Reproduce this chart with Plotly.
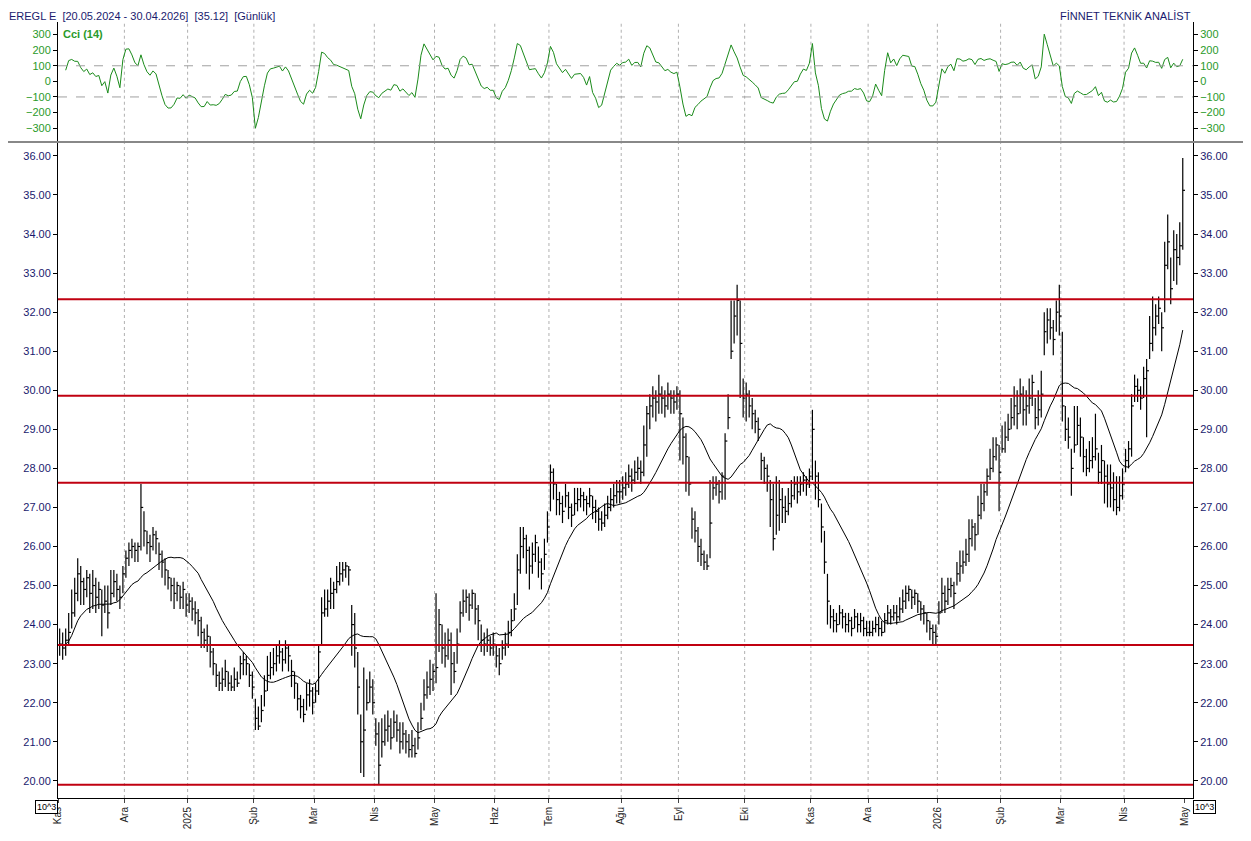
import plotly.graph_objects as go
import pandas as pd

# daily bars, Nov 2024 .. Apr 2026 (trading-day index)
closes = [
    23.5, 23.4, 23.6, 23.8, 24.3, 24.8, 25.3, 25.1, 24.9, 25.2, 24.8, 25.0, 24.7, 24.9, 24.5, 24.6, 24.3, 24.8, 25.1, 24.9, 24.7, 25.3,
    25.7, 25.9, 26.0, 25.9, 26.0, 27.0, 26.4, 26.1, 26.0, 26.3, 26.2, 25.8, 25.6, 25.4, 25.2, 25.0, 24.8, 25.0, 24.7, 24.9, 24.5,
    24.6, 24.4, 24.3, 24.1, 23.8, 23.6, 23.7, 23.3, 23.0, 22.7, 22.5, 22.6, 22.8, 22.5, 22.4, 22.6, 22.5, 23.0, 23.1, 23.0, 22.7, 22.4,
    21.6, 21.4, 21.8, 22.3, 22.7, 22.9, 23.0, 23.2, 23.3, 23.1, 23.4, 23.2, 22.8, 22.5, 22.1, 21.9, 21.7, 22.2, 22.3, 22.0,
    22.3, 23.3, 24.3, 24.4, 24.6, 24.8, 24.9, 25.1, 25.3, 25.4, 25.5, 25.4, 24.0, 23.4, 22.4, 21.0, 21.3, 22.0, 22.4, 22.0,
    21.2, 20.4, 21.0, 21.3, 21.4, 21.1, 21.5, 21.3, 21.0, 21.2, 21.0, 20.8, 20.9, 20.7, 21.1, 21.6, 22.2, 22.4, 22.6, 22.8,
    22.9, 24.0, 23.4, 23.2, 23.6, 23.0, 22.8, 23.5, 24.3, 24.6, 24.7, 24.5, 24.8, 24.4, 24.1, 23.6, 23.5, 23.6, 23.4, 23.5,
    23.2, 23.0, 23.4, 23.5, 23.8, 24.1, 24.4, 25.4, 26.0, 26.2, 25.9, 25.5, 25.8, 26.1, 25.6, 25.3, 25.8, 26.5,
    27.9, 27.6, 27.2, 27.1, 26.9, 27.3, 27.0, 26.8, 27.1, 27.2, 27.3, 27.2, 27.1, 27.3, 27.0, 26.9, 26.7, 26.6, 26.8, 27.0, 27.2, 27.3, 27.4, 27.4,
    27.5, 27.6, 27.8, 27.7, 27.9, 28.0, 27.9, 28.6, 29.4, 29.6, 29.8, 29.7, 29.9, 29.8, 29.6, 29.9, 29.8, 29.7, 29.9,
    29.4, 28.8, 28.3, 27.6, 26.7, 26.4, 26.0, 25.8, 25.6, 25.5, 26.6, 27.5, 27.6, 27.4, 27.8, 28.7, 29.3, 31.0, 31.9, 32.3, 31.2, 29.8,
    29.9, 29.6, 29.4, 29.2, 29.0, 28.2, 28.0, 27.8, 27.2, 26.2, 26.8, 27.2, 27.0, 26.9, 27.1, 27.3, 27.6, 27.4, 27.6, 27.7, 27.6, 27.8,
    29.0, 27.8, 27.2, 26.5, 25.6, 24.6, 24.2, 24.1, 24.0, 24.3, 24.2, 24.0, 24.1, 23.9, 24.2, 24.0, 24.1, 23.9, 23.8,
    23.8, 23.9, 24.0, 23.9, 23.8, 24.1, 24.3, 24.2, 24.3, 24.2, 24.4, 24.6, 24.8, 24.9, 24.7, 24.8, 24.6, 24.4, 24.3, 24.1, 23.9, 23.8, 23.7,
    24.3, 24.8, 24.6, 24.9, 25.0, 24.8, 25.3, 25.5, 25.6, 25.8, 26.2, 26.5, 26.3, 26.8, 27.1, 27.4, 27.8, 28.0, 28.3, 28.6, 27.9,
    28.5, 28.8, 29.0, 29.3, 29.6, 29.4, 29.9, 29.5, 29.6, 29.8, 30.2, 29.3, 29.5, 29.9, 31.5, 31.8, 31.6, 31.3, 32.0, 31.9,
    29.6, 29.0, 28.8, 28.0, 28.6, 29.1, 28.8, 28.3, 28.0, 28.2, 28.3, 28.5, 27.9, 28.2, 27.8, 27.6, 27.5, 27.2, 27.0, 27.3, 27.6,
    28.2, 28.5, 29.6, 30.1, 30.0, 29.8, 30.3, 30.5, 31.2, 31.6, 31.9, 32.1, 31.6, 33.2, 33.8, 32.6, 33.6, 33.4, 33.7, 35.12,
]
highs = [
    23.9, 23.8, 23.9, 24.3, 24.9, 25.2, 25.7, 25.5, 25.2, 25.4, 25.3, 25.4, 25.2, 25.1, 24.9, 25.0, 25.0, 25.4, 25.4, 25.3, 25.0, 25.5,
    25.9, 26.1, 26.2, 26.1, 26.1, 27.6, 26.9, 26.4, 26.3, 26.5, 26.4, 26.1, 25.9, 25.7, 25.4, 25.2, 25.2, 25.1, 25.0, 25.1, 24.8,
    24.8, 24.7, 24.6, 24.4, 24.2, 23.9, 24.0, 23.7, 23.4, 23.0, 22.8, 22.9, 23.1, 22.8, 22.7, 22.9, 22.8, 23.2, 23.3, 23.2, 23.0, 22.8,
    22.1, 21.9, 22.2, 22.7, 23.2, 23.3, 23.4, 23.5, 23.6, 23.4, 23.6, 23.5, 23.1, 22.8, 22.5, 22.2, 22.1, 22.5, 22.6, 22.4,
    22.5, 23.5, 24.7, 24.9, 24.9, 25.2, 25.1, 25.5, 25.6, 25.6, 25.6, 25.5, 24.5, 24.3, 23.3, 21.7, 22.9, 22.6, 22.8, 22.6,
    21.6, 21.5, 21.6, 21.7, 21.8, 21.6, 21.8, 21.7, 21.5, 21.5, 21.3, 21.2, 21.3, 21.1, 21.5, 22.0, 22.6, 22.8, 23.1, 23.0,
    24.8, 24.4, 24.0, 23.8, 23.9, 23.8, 23.3, 23.9, 24.6, 24.9, 24.9, 24.8, 24.9, 24.8, 24.5, 24.0, 23.8, 23.9, 23.7, 23.8,
    23.5, 23.4, 23.6, 23.8, 24.1, 24.4, 24.8, 25.8, 26.5, 26.5, 26.3, 26.0, 26.1, 26.3, 26.0, 25.7, 26.2, 26.9,
    28.1, 28.0, 27.6, 27.4, 27.3, 27.6, 27.4, 27.1, 27.5, 27.5, 27.5, 27.4, 27.3, 27.5, 27.3, 27.2, 27.0, 26.9, 27.1, 27.3, 27.5, 27.6, 27.7, 27.7,
    27.8, 27.9, 28.1, 28.0, 28.2, 28.3, 28.2, 29.1, 29.6, 29.9, 30.1, 30.0, 30.4, 30.1, 30.0, 30.2, 30.0, 30.0, 30.1,
    30.0, 29.3, 28.9, 28.3, 27.0, 26.9, 26.5, 26.2, 25.9, 25.8, 27.7, 27.8, 27.8, 27.7, 27.9, 28.9, 29.9, 32.3, 32.3, 32.7, 32.3, 30.3,
    30.2, 30.0, 29.8, 29.5, 29.3, 28.4, 28.3, 28.1, 27.7, 27.6, 27.8, 27.7, 27.5, 27.3, 27.5, 27.7, 27.8, 27.8, 27.8, 27.9, 27.8, 28.0,
    29.5, 28.2, 27.9, 27.1, 26.4, 25.3, 24.5, 24.4, 24.3, 24.5, 24.4, 24.3, 24.3, 24.2, 24.4, 24.3, 24.3, 24.2, 24.1,
    24.1, 24.1, 24.2, 24.2, 24.1, 24.3, 24.5, 24.4, 24.5, 24.5, 24.7, 24.9, 25.0, 25.0, 24.9, 24.9, 24.8, 24.6, 24.5, 24.3, 24.1, 24.0, 24.0,
    24.6, 25.2, 25.0, 25.2, 25.2, 25.1, 25.6, 25.9, 25.9, 26.2, 26.7, 26.7, 26.6, 27.3, 27.6, 27.6, 28.0, 28.5, 28.8, 28.8, 28.6,
    29.1, 29.2, 29.4, 29.8, 30.1, 30.0, 30.3, 30.1, 30.0, 30.3, 30.4, 29.8, 30.0, 30.5, 32.0, 32.1, 32.1, 31.8, 32.3, 32.7,
    31.5, 29.6, 29.3, 28.5, 29.6, 29.6, 29.3, 28.8, 28.5, 28.7, 28.8, 29.4, 28.4, 28.6, 28.2, 28.1, 28.1, 27.9, 27.8, 27.8, 28.0,
    28.5, 28.7, 29.9, 30.4, 30.3, 30.1, 30.6, 30.8, 31.9, 32.4, 32.2, 32.4, 32.0, 33.8, 34.5, 33.4, 34.1, 34.0, 34.3, 35.95,
]
lows = [
    23.2, 23.1, 23.2, 23.5, 23.9, 24.2, 24.6, 24.5, 24.5, 24.7, 24.3, 24.4, 24.3, 24.4, 23.7, 24.3, 23.9, 24.5, 24.7, 24.6, 24.4, 24.8,
    25.2, 25.5, 25.7, 25.6, 25.6, 25.9, 26.0, 25.8, 25.6, 25.9, 25.8, 25.4, 25.2, 25.0, 24.9, 24.6, 24.4, 24.6, 24.4, 24.4, 24.2,
    24.3, 24.1, 24.0, 23.7, 23.4, 23.4, 23.3, 22.9, 22.7, 22.4, 22.3, 22.3, 22.4, 22.3, 22.3, 22.3, 22.4, 22.6, 22.7, 22.7, 22.4, 22.1,
    21.3, 21.3, 21.5, 21.9, 22.3, 22.6, 22.7, 22.8, 23.0, 22.8, 23.0, 22.8, 22.4, 22.1, 21.8, 21.6, 21.5, 21.8, 21.9, 21.7,
    22.0, 22.2, 23.5, 24.2, 24.2, 24.4, 24.4, 24.8, 25.0, 25.1, 25.2, 25.0, 23.2, 22.9, 21.7, 20.2, 20.1, 21.8, 22.0, 21.7,
    20.9, 19.9, 20.6, 20.9, 21.0, 20.8, 21.1, 21.0, 20.7, 20.8, 20.7, 20.6, 20.6, 20.6, 20.8, 21.3, 21.8, 22.1, 22.2, 22.3,
    22.5, 23.3, 23.0, 22.9, 23.1, 22.2, 22.5, 23.0, 23.8, 24.2, 24.3, 24.1, 24.4, 24.0, 23.6, 23.3, 23.2, 23.3, 23.2, 23.2,
    22.9, 22.7, 23.1, 23.2, 23.4, 23.7, 24.1, 24.5, 25.3, 25.7, 25.3, 24.9, 25.3, 25.6, 25.2, 24.9, 25.4, 26.1,
    26.9, 27.2, 26.8, 26.8, 26.6, 27.0, 26.7, 26.5, 26.8, 26.9, 27.0, 26.9, 26.8, 27.0, 26.7, 26.6, 26.4, 26.4, 26.5, 26.7, 26.9, 27.0, 27.1, 27.1,
    27.2, 27.3, 27.5, 27.4, 27.6, 27.7, 27.6, 27.8, 28.3, 29.0, 29.3, 29.2, 29.4, 29.4, 29.3, 29.5, 29.4, 29.4, 29.5,
    28.2, 28.1, 27.4, 27.3, 26.2, 26.1, 25.6, 25.5, 25.4, 25.4, 25.7, 27.2, 27.3, 27.1, 27.2, 27.2, 29.0, 30.8, 31.2, 31.4, 29.8, 29.3,
    29.2, 29.3, 29.0, 28.9, 28.7, 27.7, 27.6, 27.4, 26.5, 25.9, 26.3, 26.4, 26.6, 26.6, 26.8, 27.0, 27.2, 27.1, 27.3, 27.4, 27.3, 27.5,
    27.7, 27.2, 27.0, 26.1, 25.3, 24.0, 23.9, 23.8, 23.8, 24.0, 23.9, 23.8, 23.8, 23.7, 23.9, 23.8, 23.8, 23.7, 23.7,
    23.7, 23.7, 23.8, 23.7, 23.7, 23.8, 24.0, 24.0, 24.1, 24.0, 24.1, 24.3, 24.4, 24.6, 24.4, 24.5, 24.3, 24.1, 24.0, 23.8, 23.6, 23.5, 23.5,
    24.0, 24.3, 24.3, 24.5, 24.7, 24.4, 25.0, 25.1, 25.3, 25.5, 25.6, 26.0, 25.9, 26.3, 26.7, 26.9, 27.3, 27.7, 27.9, 28.2, 26.9,
    28.4, 28.4, 28.7, 29.0, 29.1, 29.0, 29.4, 29.1, 29.1, 29.4, 29.6, 29.0, 29.1, 29.3, 30.9, 31.2, 31.3, 30.9, 31.5, 31.4,
    29.2, 28.7, 28.5, 27.3, 28.4, 28.6, 28.3, 27.9, 27.8, 27.9, 28.0, 28.2, 27.6, 27.6, 27.1, 27.0, 27.0, 26.9, 26.8, 26.9, 27.2,
    27.9, 28.0, 28.3, 29.7, 29.7, 29.5, 29.8, 28.8, 30.8, 31.0, 31.4, 31.7, 31.0, 32.0, 33.1, 32.2, 32.8, 32.7, 33.2, 33.6,
]

# trading days per month and month labels
month_days = [22, 21, 22, 20, 20, 20, 20, 18, 24, 19, 22, 22, 19, 23, 21, 20, 21, 20]
month_labels = ["Kas", "Ara", "2025", "Şub", "Mar", "Nis", "May", "Haz", "Tem", "Ağu",
                "Eyl", "Eki", "Kas", "Ara", "2026", "Şub", "Mar", "Nis", "May"]

# support / resistance levels
levels = [32.33, 29.86, 27.63, 23.48, 19.90]

n = len(closes)
idx = list(range(n))
df = pd.DataFrame({"h": highs, "l": lows, "c": closes})
ma = df["c"].rolling(20, min_periods=1).mean()
tp = (df["h"] + df["l"] + df["c"]) / 3
sma_tp = tp.rolling(14, min_periods=3).mean()
mad = tp.rolling(14, min_periods=3).apply(lambda s: (s - s.mean()).abs().mean(), raw=False)
cci = (tp - sma_tp) / (0.015 * mad)

tickpos = [-0.5]
for d in month_days:
    tickpos.append(tickpos[-1] + d)

# bar lines: high-low stem plus close tick on the right
bx, by = [], []
for i in range(n):
    bx += [i, i, None, i, i + 0.75, None]
    by += [lows[i], highs[i], None, closes[i], closes[i], None]

fig = go.Figure()
fig.add_trace(go.Scatter(x=bx, y=by, mode="lines", line=dict(color="black", width=1.2),
                         yaxis="y", hoverinfo="skip", showlegend=False))
fig.add_trace(go.Scatter(x=idx, y=ma, mode="lines", line=dict(color="black", width=1),
                         yaxis="y", showlegend=False))
fig.add_trace(go.Scatter(x=idx, y=cci, mode="lines", line=dict(color="#1a8a1a", width=1),
                         yaxis="y2", showlegend=False))
fig.add_trace(go.Scatter(x=[0], y=[25], mode="markers", marker=dict(opacity=0),
                         yaxis="y3", hoverinfo="skip", showlegend=False))
fig.add_trace(go.Scatter(x=[0], y=[0], mode="markers", marker=dict(opacity=0),
                         yaxis="y4", hoverinfo="skip", showlegend=False))

shapes = []
for lv in levels:
    shapes.append(dict(type="line", xref="paper", x0=0, x1=1, yref="y", y0=lv, y1=lv,
                       line=dict(color="#c00010", width=2)))
for yv in [100, -100]:
    shapes.append(dict(type="line", xref="paper", x0=0, x1=1, yref="y2", y0=yv, y1=yv,
                       line=dict(color="#a0a0a0", width=1, dash="dash")))
for tp_ in tickpos[1:-1]:
    for yr in ["y domain", "y2 domain"]:
        shapes.append(dict(type="line", xref="x", x0=tp_, x1=tp_, yref=yr, y0=0, y1=1,
                           line=dict(color="#b0b0b0", width=1, dash="dot"), layer="below"))
# separator between panels
shapes.append(dict(type="line", xref="paper", x0=-0.06, x1=1.06, yref="paper", y0=0.8455, y1=0.8455,
                   line=dict(color="#888888", width=2)))

font = "Liberation Sans, Arial, sans-serif"
price_ticks = list(range(20, 37))
cci_ticks = list(range(-300, 301, 100))
common_y = dict(showgrid=False, zeroline=False, showline=True, linecolor="black", ticks="outside",
                ticklen=4, tickcolor="black")

fig.update_layout(
    width=1251, height=841,
    margin=dict(l=50, r=66, t=14, b=51),
    paper_bgcolor="white", plot_bgcolor="white",
    font=dict(family=font, size=11, color="#1a1a6e"),
    shapes=shapes,
    xaxis=dict(range=[-0.55, n + 2.4], tickvals=tickpos, ticktext=month_labels,
               tickangle=-90, showgrid=False, zeroline=False, showline=True, linecolor="black",
               mirror=True, ticks="outside", ticklen=4, tickfont=dict(size=10, color="#222")),
    yaxis=dict(domain=[0, 0.844], range=[19.56, 36.33], tickvals=price_ticks,
               ticktext=[f"{v:.2f}" for v in price_ticks], **common_y),
    yaxis3=dict(overlaying="y", side="right", matches="y", tickvals=price_ticks,
                ticktext=[f"{v:.2f}" for v in price_ticks], **common_y),
    yaxis2=dict(domain=[0.847, 1], range=[-381, 381], tickvals=cci_ticks,
                tickfont=dict(color="#2a9a2a"), **common_y),
    yaxis4=dict(overlaying="y2", side="right", matches="y2", tickvals=cci_ticks,
                tickfont=dict(color="#2a9a2a"), **common_y),
    annotations=[
        dict(xref="paper", yref="paper", x=-0.045, y=1.0, yanchor="bottom", xanchor="left",
             text="EREGL E  [20.05.2024 - 30.04.2026]  [35.12]  [Günlük]", showarrow=False,
             font=dict(size=11, color="#1a1a6e"), yshift=-2),
        dict(xref="paper", yref="paper", x=1.0, y=1.0, yanchor="bottom", xanchor="right",
             text="FİNNET TEKNİK ANALİST", showarrow=False, font=dict(size=11, color="#1a1a6e"),
             yshift=-2),
        dict(xref="paper", yref="paper", x=0.003, y=0.995, yanchor="top", xanchor="left",
             text="<b>Cci (14)</b>", showarrow=False, font=dict(size=11, color="#2a9a2a")),
        dict(xref="paper", yref="paper", x=-0.01, y=-0.003, yanchor="top", xanchor="center",
             text="10^3", showarrow=False, font=dict(size=9, color="black"),
             bordercolor="black", borderwidth=1, borderpad=1, bgcolor="white"),
        dict(xref="paper", yref="paper", x=1.01, y=-0.003, yanchor="top", xanchor="center",
             text="10^3", showarrow=False, font=dict(size=9, color="black"),
             bordercolor="black", borderwidth=1, borderpad=1, bgcolor="white"),
    ],
)

fig.write_html("out.html")
